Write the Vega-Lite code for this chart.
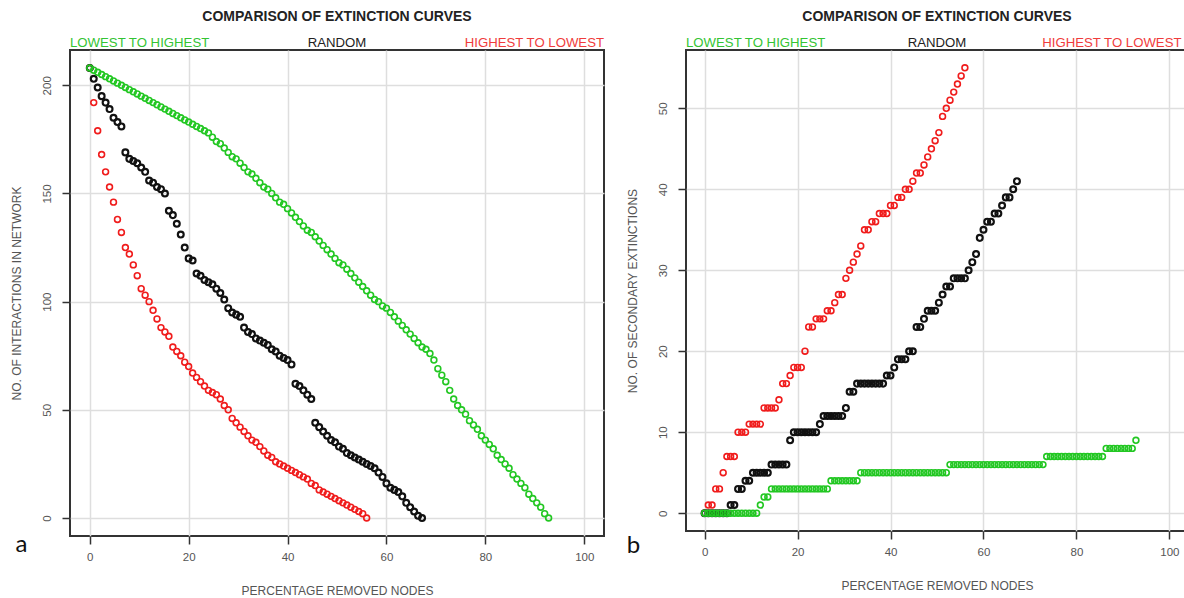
{
  "$schema": "https://vega.github.io/schema/vega-lite/v6.json",
  "background": "white",
  "padding": {"left": 8, "top": 8, "right": 0, "bottom": 0},
  "spacing": 19,
  "datasets": {
    "interactions": [
      {"x": 0, "high": 208, "rnd": 208, "low": 208},
      {"x": 0.8, "high": 192, "rnd": 203, "low": 207},
      {"x": 1.6, "high": 179, "rnd": 199, "low": 206},
      {"x": 2.4, "high": 168, "rnd": 195, "low": 205},
      {"x": 3.2, "high": 160, "rnd": 192, "low": 204},
      {"x": 4, "high": 153, "rnd": 189, "low": 203},
      {"x": 4.8, "high": 146, "rnd": 185, "low": 202},
      {"x": 5.6, "high": 138, "rnd": 183, "low": 201},
      {"x": 6.4, "high": 132, "rnd": 181, "low": 200},
      {"x": 7.2, "high": 125, "rnd": 169, "low": 199},
      {"x": 8, "high": 122, "rnd": 166, "low": 198},
      {"x": 8.8, "high": 117, "rnd": 165, "low": 197},
      {"x": 9.6, "high": 112, "rnd": 164, "low": 196},
      {"x": 10.4, "high": 106, "rnd": 162, "low": 195},
      {"x": 11.2, "high": 103, "rnd": 160, "low": 194},
      {"x": 12, "high": 100, "rnd": 156, "low": 193},
      {"x": 12.8, "high": 96, "rnd": 155, "low": 192},
      {"x": 13.6, "high": 92, "rnd": 153, "low": 191},
      {"x": 14.4, "high": 88, "rnd": 152, "low": 190},
      {"x": 15.2, "high": 86, "rnd": 150, "low": 189},
      {"x": 16, "high": 84, "rnd": 142, "low": 188},
      {"x": 16.8, "high": 79, "rnd": 140, "low": 187},
      {"x": 17.6, "high": 77, "rnd": 136, "low": 186},
      {"x": 18.4, "high": 75, "rnd": 131, "low": 185},
      {"x": 19.2, "high": 72, "rnd": 125, "low": 184},
      {"x": 20, "high": 70, "rnd": 120, "low": 183},
      {"x": 20.8, "high": 67, "rnd": 119, "low": 182},
      {"x": 21.6, "high": 65, "rnd": 113, "low": 181},
      {"x": 22.4, "high": 63, "rnd": 112, "low": 180},
      {"x": 23.2, "high": 61, "rnd": 110, "low": 179},
      {"x": 24, "high": 59, "rnd": 109, "low": 178},
      {"x": 24.8, "high": 58, "rnd": 108, "low": 176},
      {"x": 25.6, "high": 57, "rnd": 106, "low": 174},
      {"x": 26.4, "high": 55, "rnd": 104, "low": 173},
      {"x": 27.2, "high": 52, "rnd": 101, "low": 171},
      {"x": 28, "high": 50, "rnd": 97, "low": 169},
      {"x": 28.8, "high": 46, "rnd": 95, "low": 167},
      {"x": 29.6, "high": 44, "rnd": 94, "low": 166},
      {"x": 30.4, "high": 42, "rnd": 93, "low": 164},
      {"x": 31.2, "high": 40, "rnd": 88, "low": 162},
      {"x": 32, "high": 38, "rnd": 86, "low": 160},
      {"x": 32.8, "high": 36, "rnd": 85, "low": 159},
      {"x": 33.6, "high": 35, "rnd": 83, "low": 157},
      {"x": 34.4, "high": 33, "rnd": 82, "low": 155},
      {"x": 35.2, "high": 31, "rnd": 81, "low": 153},
      {"x": 36, "high": 29, "rnd": 80, "low": 152},
      {"x": 36.8, "high": 28, "rnd": 78, "low": 150},
      {"x": 37.6, "high": 26, "rnd": 77, "low": 148},
      {"x": 38.4, "high": 25, "rnd": 75, "low": 146},
      {"x": 39.2, "high": 24, "rnd": 74, "low": 145},
      {"x": 40, "high": 23, "rnd": 73, "low": 143},
      {"x": 40.8, "high": 22, "rnd": 71, "low": 141},
      {"x": 41.6, "high": 21, "rnd": 62, "low": 139},
      {"x": 42.4, "high": 20, "rnd": 61, "low": 137},
      {"x": 43.2, "high": 19, "rnd": 59, "low": 135},
      {"x": 44, "high": 18, "rnd": 57, "low": 133},
      {"x": 44.8, "high": 16, "rnd": 55, "low": 132},
      {"x": 45.6, "high": 15, "rnd": 44, "low": 130},
      {"x": 46.4, "high": 13, "rnd": 42, "low": 128},
      {"x": 47.2, "high": 12, "rnd": 40, "low": 126},
      {"x": 48, "high": 11, "rnd": 38, "low": 124},
      {"x": 48.8, "high": 10, "rnd": 36, "low": 122},
      {"x": 49.6, "high": 9, "rnd": 35, "low": 120},
      {"x": 50.4, "high": 8, "rnd": 33, "low": 118},
      {"x": 51.2, "high": 7, "rnd": 32, "low": 117},
      {"x": 52, "high": 6, "rnd": 30, "low": 115},
      {"x": 52.8, "high": 5, "rnd": 29, "low": 113},
      {"x": 53.6, "high": 4, "rnd": 28, "low": 111},
      {"x": 54.4, "high": 3, "rnd": 27, "low": 109},
      {"x": 55.2, "high": 2, "rnd": 26, "low": 107},
      {"x": 56, "high": 0, "rnd": 25, "low": 105},
      {"x": 56.8, "rnd": 24, "low": 103},
      {"x": 57.6, "rnd": 23, "low": 101},
      {"x": 58.4, "rnd": 21, "low": 100},
      {"x": 59.2, "rnd": 19, "low": 98},
      {"x": 60, "rnd": 16, "low": 97},
      {"x": 60.8, "rnd": 14, "low": 95},
      {"x": 61.6, "rnd": 13, "low": 93},
      {"x": 62.4, "rnd": 12, "low": 91},
      {"x": 63.2, "rnd": 10, "low": 89},
      {"x": 64, "rnd": 7, "low": 87},
      {"x": 64.8, "rnd": 5, "low": 85},
      {"x": 65.6, "rnd": 3, "low": 83},
      {"x": 66.4, "rnd": 1, "low": 81},
      {"x": 67.2, "rnd": 0, "low": 79},
      {"x": 68, "low": 78},
      {"x": 68.8, "low": 76},
      {"x": 69.6, "low": 73},
      {"x": 70.4, "low": 69},
      {"x": 71.2, "low": 66},
      {"x": 72, "low": 63},
      {"x": 72.8, "low": 59},
      {"x": 73.6, "low": 55},
      {"x": 74.4, "low": 52},
      {"x": 75.2, "low": 50},
      {"x": 76, "low": 48},
      {"x": 76.8, "low": 45},
      {"x": 77.6, "low": 43},
      {"x": 78.4, "low": 41},
      {"x": 79.2, "low": 38},
      {"x": 80, "low": 36},
      {"x": 80.8, "low": 34},
      {"x": 81.6, "low": 32},
      {"x": 82.4, "low": 29},
      {"x": 83.2, "low": 27},
      {"x": 84, "low": 25},
      {"x": 84.8, "low": 23},
      {"x": 85.6, "low": 20},
      {"x": 86.4, "low": 18},
      {"x": 87.2, "low": 16},
      {"x": 88, "low": 14},
      {"x": 88.8, "low": 11},
      {"x": 89.6, "low": 9},
      {"x": 90.4, "low": 7},
      {"x": 91.2, "low": 5},
      {"x": 92, "low": 2},
      {"x": 92.8, "low": 0}
    ],
    "extinctions": [
      {"x": 0, "high": 0, "rnd": 0, "low": 0},
      {"x": 0.8, "high": 1, "rnd": 0, "low": 0},
      {"x": 1.6, "high": 1, "rnd": 0, "low": 0},
      {"x": 2.4, "high": 3, "rnd": 0, "low": 0},
      {"x": 3.2, "high": 3, "rnd": 0, "low": 0},
      {"x": 4, "high": 5, "rnd": 0, "low": 0},
      {"x": 4.8, "high": 7, "rnd": 0, "low": 0},
      {"x": 5.6, "high": 7, "rnd": 1, "low": 0},
      {"x": 6.4, "high": 7, "rnd": 1, "low": 0},
      {"x": 7.2, "high": 10, "rnd": 3, "low": 0},
      {"x": 8, "high": 10, "rnd": 3, "low": 0},
      {"x": 8.8, "high": 10, "rnd": 4, "low": 0},
      {"x": 9.6, "high": 11, "rnd": 4, "low": 0},
      {"x": 10.4, "high": 11, "rnd": 5, "low": 0},
      {"x": 11.2, "high": 11, "rnd": 5, "low": 0},
      {"x": 12, "high": 11, "rnd": 5, "low": 1},
      {"x": 12.8, "high": 13, "rnd": 5, "low": 2},
      {"x": 13.6, "high": 13, "rnd": 5, "low": 2},
      {"x": 14.4, "high": 13, "rnd": 6, "low": 3},
      {"x": 15.2, "high": 13, "rnd": 6, "low": 3},
      {"x": 16, "high": 14, "rnd": 6, "low": 3},
      {"x": 16.8, "high": 16, "rnd": 6, "low": 3},
      {"x": 17.6, "high": 16, "rnd": 6, "low": 3},
      {"x": 18.4, "high": 17, "rnd": 9, "low": 3},
      {"x": 19.2, "high": 18, "rnd": 10, "low": 3},
      {"x": 20, "high": 18, "rnd": 10, "low": 3},
      {"x": 20.8, "high": 18, "rnd": 10, "low": 3},
      {"x": 21.6, "high": 20, "rnd": 10, "low": 3},
      {"x": 22.4, "high": 23, "rnd": 10, "low": 3},
      {"x": 23.2, "high": 23, "rnd": 10, "low": 3},
      {"x": 24, "high": 24, "rnd": 10, "low": 3},
      {"x": 24.8, "high": 24, "rnd": 11, "low": 3},
      {"x": 25.6, "high": 24, "rnd": 12, "low": 3},
      {"x": 26.4, "high": 25, "rnd": 12, "low": 3},
      {"x": 27.2, "high": 25, "rnd": 12, "low": 4},
      {"x": 28, "high": 26, "rnd": 12, "low": 4},
      {"x": 28.8, "high": 27, "rnd": 12, "low": 4},
      {"x": 29.6, "high": 27, "rnd": 12, "low": 4},
      {"x": 30.4, "high": 29, "rnd": 13, "low": 4},
      {"x": 31.2, "high": 30, "rnd": 15, "low": 4},
      {"x": 32, "high": 31, "rnd": 15, "low": 4},
      {"x": 32.8, "high": 32, "rnd": 16, "low": 4},
      {"x": 33.6, "high": 33, "rnd": 16, "low": 5},
      {"x": 34.4, "high": 35, "rnd": 16, "low": 5},
      {"x": 35.2, "high": 35, "rnd": 16, "low": 5},
      {"x": 36, "high": 36, "rnd": 16, "low": 5},
      {"x": 36.8, "high": 36, "rnd": 16, "low": 5},
      {"x": 37.6, "high": 37, "rnd": 16, "low": 5},
      {"x": 38.4, "high": 37, "rnd": 16, "low": 5},
      {"x": 39.2, "high": 37, "rnd": 17, "low": 5},
      {"x": 40, "high": 38, "rnd": 17, "low": 5},
      {"x": 40.8, "high": 38, "rnd": 18, "low": 5},
      {"x": 41.6, "high": 39, "rnd": 19, "low": 5},
      {"x": 42.4, "high": 39, "rnd": 19, "low": 5},
      {"x": 43.2, "high": 40, "rnd": 19, "low": 5},
      {"x": 44, "high": 40, "rnd": 20, "low": 5},
      {"x": 44.8, "high": 41, "rnd": 20, "low": 5},
      {"x": 45.6, "high": 42, "rnd": 23, "low": 5},
      {"x": 46.4, "high": 42, "rnd": 23, "low": 5},
      {"x": 47.2, "high": 43, "rnd": 24, "low": 5},
      {"x": 48, "high": 44, "rnd": 25, "low": 5},
      {"x": 48.8, "high": 45, "rnd": 25, "low": 5},
      {"x": 49.6, "high": 46, "rnd": 25, "low": 5},
      {"x": 50.4, "high": 47, "rnd": 26, "low": 5},
      {"x": 51.2, "high": 49, "rnd": 27, "low": 5},
      {"x": 52, "high": 50, "rnd": 28, "low": 5},
      {"x": 52.8, "high": 51, "rnd": 28, "low": 6},
      {"x": 53.6, "high": 52, "rnd": 29, "low": 6},
      {"x": 54.4, "high": 53, "rnd": 29, "low": 6},
      {"x": 55.2, "high": 54, "rnd": 29, "low": 6},
      {"x": 56, "high": 55, "rnd": 29, "low": 6},
      {"x": 56.8, "rnd": 30, "low": 6},
      {"x": 57.6, "rnd": 31, "low": 6},
      {"x": 58.4, "rnd": 32, "low": 6},
      {"x": 59.2, "rnd": 34, "low": 6},
      {"x": 60, "rnd": 35, "low": 6},
      {"x": 60.8, "rnd": 36, "low": 6},
      {"x": 61.6, "rnd": 36, "low": 6},
      {"x": 62.4, "rnd": 37, "low": 6},
      {"x": 63.2, "rnd": 37, "low": 6},
      {"x": 64, "rnd": 38, "low": 6},
      {"x": 64.8, "rnd": 39, "low": 6},
      {"x": 65.6, "rnd": 39, "low": 6},
      {"x": 66.4, "rnd": 40, "low": 6},
      {"x": 67.2, "rnd": 41, "low": 6},
      {"x": 68, "low": 6},
      {"x": 68.8, "low": 6},
      {"x": 69.6, "low": 6},
      {"x": 70.4, "low": 6},
      {"x": 71.2, "low": 6},
      {"x": 72, "low": 6},
      {"x": 72.8, "low": 6},
      {"x": 73.6, "low": 7},
      {"x": 74.4, "low": 7},
      {"x": 75.2, "low": 7},
      {"x": 76, "low": 7},
      {"x": 76.8, "low": 7},
      {"x": 77.6, "low": 7},
      {"x": 78.4, "low": 7},
      {"x": 79.2, "low": 7},
      {"x": 80, "low": 7},
      {"x": 80.8, "low": 7},
      {"x": 81.6, "low": 7},
      {"x": 82.4, "low": 7},
      {"x": 83.2, "low": 7},
      {"x": 84, "low": 7},
      {"x": 84.8, "low": 7},
      {"x": 85.6, "low": 7},
      {"x": 86.4, "low": 8},
      {"x": 87.2, "low": 8},
      {"x": 88, "low": 8},
      {"x": 88.8, "low": 8},
      {"x": 89.6, "low": 8},
      {"x": 90.4, "low": 8},
      {"x": 91.2, "low": 8},
      {"x": 92, "low": 8},
      {"x": 92.8, "low": 9}
    ],
    "orderLabels": [
      {"label": "LOWEST TO HIGHEST", "pos": "left"},
      {"label": "RANDOM", "pos": "mid"},
      {"label": "HIGHEST TO LOWEST", "pos": "right"}
    ]
  },
  "config": {
    "font": "Liberation Sans",
    "view": {"stroke": "#333333", "strokeWidth": 2},
    "axis": {
      "domain": false,
      "grid": true,
      "gridColor": "#dedede",
      "gridWidth": 1.5,
      "ticks": true,
      "tickColor": "#333333",
      "tickSize": 8,
      "tickWidth": 1.5,
      "labelColor": "#555555",
      "labelFontSize": 11.5,
      "titleColor": "#555555",
      "titleFontSize": 12,
      "titleFontWeight": "normal"
    },
    "axisX": {"labelPadding": 7, "titlePadding": 23},
    "axisY": {"labelAngle": -90, "labelAlign": "center", "labelBaseline": "middle", "labelPadding": 15, "titlePadding": 18},
    "title": {"fontSize": 14, "fontWeight": "bold", "color": "#222222", "anchor": "middle", "offset": 12}
  },
  "hconcat": [
    {
      "width": 534,
      "height": 486,
      "title": "COMPARISON OF EXTINCTION CURVES",
      "data": {"name": "interactions"},
      "layer": [
        {
          "mark": {"type": "point", "filled": false, "size": 34, "strokeWidth": 1.6, "color": "#f01c1c", "opacity": 1},
          "encoding": {
            "x": {"field": "x", "type": "quantitative", "scale": {"domain": [-4, 104], "nice": false, "zero": false}, "axis": {"values": [0, 20, 40, 60, 80, 100], "title": "PERCENTAGE REMOVED NODES"}},
            "y": {"field": "high", "type": "quantitative", "scale": {"domain": [-8.32, 216.32], "nice": false, "zero": false}, "axis": {"values": [0, 50, 100, 150, 200], "title": "NO. OF INTERACTIONS IN NETWORK"}}
          }
        },
        {
          "mark": {"type": "point", "filled": false, "size": 34, "strokeWidth": 2.2, "color": "#111111", "opacity": 1},
          "encoding": {
            "x": {"field": "x", "type": "quantitative"},
            "y": {"field": "rnd", "type": "quantitative", "axis": {"title": "NO. OF INTERACTIONS IN NETWORK"}}
          }
        },
        {
          "mark": {"type": "point", "filled": false, "size": 34, "strokeWidth": 1.6, "color": "#22c722", "opacity": 1},
          "encoding": {
            "x": {"field": "x", "type": "quantitative"},
            "y": {"field": "low", "type": "quantitative", "axis": {"title": "NO. OF INTERACTIONS IN NETWORK"}}
          }
        },
        {
          "data": {"name": "orderLabels"},
          "transform": [{"filter": "datum.pos == 'left'"}],
          "mark": {"type": "text", "align": "left", "baseline": "alphabetic", "fontSize": 13.2, "color": "#33c433"},
          "encoding": {"x": {"datum": -4}, "y": {"datum": 217.8}, "text": {"field": "label"}}
        },
        {
          "data": {"name": "orderLabels"},
          "transform": [{"filter": "datum.pos == 'mid'"}],
          "mark": {"type": "text", "align": "center", "baseline": "alphabetic", "fontSize": 13.2, "color": "#222222"},
          "encoding": {"x": {"datum": 50}, "y": {"datum": 217.8}, "text": {"field": "label"}}
        },
        {
          "data": {"name": "orderLabels"},
          "transform": [{"filter": "datum.pos == 'right'"}],
          "mark": {"type": "text", "align": "right", "baseline": "alphabetic", "fontSize": 13.2, "color": "#f03c3c"},
          "encoding": {"x": {"datum": 104}, "y": {"datum": 217.8}, "text": {"field": "label"}}
        },
        {
          "data": {"values": [{"panel": "a"}]},
          "mark": {"type": "text", "align": "center", "baseline": "alphabetic", "fontSize": 24, "font": "Lato", "color": "#111111"},
          "encoding": {"x": {"datum": -13.8}, "y": {"datum": -15.7}, "text": {"field": "panel"}}
        }
      ]
    },
    {
      "width": 502,
      "height": 481,
      "title": "COMPARISON OF EXTINCTION CURVES",
      "data": {"name": "extinctions"},
      "layer": [
        {
          "mark": {"type": "point", "filled": false, "size": 34, "strokeWidth": 1.6, "color": "#f01c1c", "opacity": 1},
          "encoding": {
            "x": {"field": "x", "type": "quantitative", "scale": {"domain": [-4, 104], "nice": false, "zero": false}, "axis": {"values": [0, 20, 40, 60, 80, 100], "title": "PERCENTAGE REMOVED NODES"}},
            "y": {"field": "high", "type": "quantitative", "scale": {"domain": [-2.2, 57.2], "nice": false, "zero": false}, "axis": {"values": [0, 10, 20, 30, 40, 50], "title": "NO. OF SECONDARY EXTINCTIONS"}}
          }
        },
        {
          "mark": {"type": "point", "filled": false, "size": 34, "strokeWidth": 2.2, "color": "#111111", "opacity": 1},
          "encoding": {
            "x": {"field": "x", "type": "quantitative"},
            "y": {"field": "rnd", "type": "quantitative", "axis": {"title": "NO. OF SECONDARY EXTINCTIONS"}}
          }
        },
        {
          "mark": {"type": "point", "filled": false, "size": 34, "strokeWidth": 1.6, "color": "#22c722", "opacity": 1},
          "encoding": {
            "x": {"field": "x", "type": "quantitative"},
            "y": {"field": "low", "type": "quantitative", "axis": {"title": "NO. OF SECONDARY EXTINCTIONS"}}
          }
        },
        {
          "data": {"name": "orderLabels"},
          "transform": [{"filter": "datum.pos == 'left'"}],
          "mark": {"type": "text", "align": "left", "baseline": "alphabetic", "fontSize": 13.2, "color": "#33c433"},
          "encoding": {"x": {"datum": -4}, "y": {"datum": 57.63}, "text": {"field": "label"}}
        },
        {
          "data": {"name": "orderLabels"},
          "transform": [{"filter": "datum.pos == 'mid'"}],
          "mark": {"type": "text", "align": "center", "baseline": "alphabetic", "fontSize": 13.2, "color": "#222222"},
          "encoding": {"x": {"datum": 50}, "y": {"datum": 57.63}, "text": {"field": "label"}}
        },
        {
          "data": {"name": "orderLabels"},
          "transform": [{"filter": "datum.pos == 'right'"}],
          "mark": {"type": "text", "align": "right", "baseline": "alphabetic", "fontSize": 13.2, "color": "#f03c3c"},
          "encoding": {"x": {"datum": 102.6}, "y": {"datum": 57.63}, "text": {"field": "label"}}
        },
        {
          "data": {"values": [{"panel": "b"}]},
          "mark": {"type": "text", "align": "center", "baseline": "alphabetic", "fontSize": 24, "font": "Lato", "color": "#111111"},
          "encoding": {"x": {"datum": -15.3}, "y": {"datum": -4.9}, "text": {"field": "panel"}}
        }
      ]
    }
  ]
}
